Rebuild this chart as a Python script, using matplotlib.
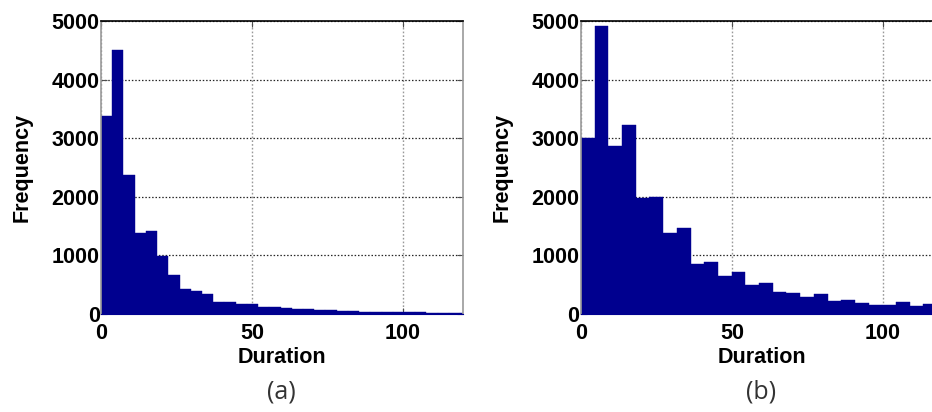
import numpy as np
import matplotlib.pyplot as plt

# histogram counts per bin, left panel (a)
counts_a = [3370, 4500, 2380, 1380, 1420, 990, 660, 420, 395, 335,
            205, 200, 175, 170, 125, 120, 95, 80, 78, 70,
            62, 48, 45, 42, 40, 30, 28, 27, 26, 25,
            25, 24, 24]
width_a = 3.72

# histogram counts per bin, right panel (b)
counts_b = [3010, 4920, 2870, 3220, 1975, 1995, 1380, 1460, 860, 895,
            640, 720, 490, 530, 375, 350, 290, 335, 227, 245,
            180, 160, 160, 205, 140, 165, 150]
width_b = 4.54

panel_tags = ["(a)", "(b)"]
yticks = [0, 1000, 2000, 3000, 4000, 5000]
xticks = [0, 50, 100]

bar_color = "#00008F"
font = "Liberation Sans"

fig = plt.figure(figsize=(9.32, 4.12), dpi=100)
ax_a = fig.add_axes([0.1084, 0.2379, 0.3884, 0.7112])
ax_b = fig.add_axes([0.6234, 0.2379, 0.3884, 0.7112])


def draw_hist(ax, counts, width, tag, cx):
    edges = np.arange(len(counts)) * width
    ax.bar(edges, counts, width=width, align="edge", color=bar_color,
           edgecolor=bar_color, linewidth=0.3, zorder=2)
    ax.set_xlim(0, 120)
    ax.set_ylim(0, 5000)
    ax.set_xticks(xticks)
    ax.set_yticks(yticks)
    ax.set_xticklabels([str(t) for t in xticks], fontfamily=font,
                       fontweight="bold", fontsize=15.5)
    ax.set_yticklabels([str(t) for t in yticks], fontfamily=font,
                       fontweight="bold", fontsize=15.5)
    ax.tick_params(direction="in", length=4, width=0.8, pad=1,
                   color="0.3", top=True, right=True)
    ax.tick_params(axis="x", pad=6.5)

    # dotted grid: horizontal darker than vertical
    ax.yaxis.grid(True, linestyle=(0, (1.2, 1.5)), color="0.15",
                  linewidth=0.9, zorder=1)
    ax.xaxis.grid(True, linestyle=(0, (1.2, 1.5)), color="0.6",
                  linewidth=1.0, zorder=1)
    ax.set_axisbelow(True)

    ax.spines["top"].set_color("black")
    ax.spines["top"].set_linewidth(1.2)
    for side in ["left", "right"]:
        ax.spines[side].set_color("0.6")
        ax.spines[side].set_linewidth(1.2)
    ax.spines["bottom"].set_color(bar_color)

    ax.set_xlabel("Duration", fontfamily=font, fontweight="bold",
                  fontsize=15.5, labelpad=2)
    ax.set_ylabel("Frequency", fontfamily=font, fontweight="bold",
                  fontsize=15.5, labelpad=14)
    fig.text(cx, 0.048, tag, ha="center", va="center", fontfamily="Open Sans",
             fontsize=18, color="#333333")


draw_hist(ax_a, counts_a, width_a, panel_tags[0], 281 / 932)
draw_hist(ax_b, counts_b, width_b, panel_tags[1], 761 / 932)

fig.savefig("out.png", dpi=100)
